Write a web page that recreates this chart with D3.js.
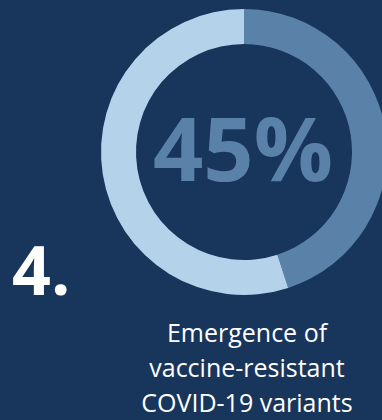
<!DOCTYPE html>
<html>
<head>
<meta charset="utf-8">
<script src="https://cdn.jsdelivr.net/npm/d3@7"></script>
<style>
  html, body { margin: 0; padding: 0; background: #18355b; }
  svg { display: block; }
</style>
</head>
<body>
<svg id="chart" width="382" height="420"></svg>
<script>
// Share of respondents citing this risk
const categories = ["Cited", "Not cited"];
const values = [45, 55];
const bigLabel = "45%";
const rankLabel = "4.";
const captionLines = ["Emergence of", "vaccine-resistant", "COVID-19 variants"];

const colors = d3.scaleOrdinal().domain(categories).range(["#5a82a9", "#b4d2e9"]);

const svg = d3.select("#chart");
const cx = 244, cy = 152, outerR = 143, innerR = 108;

const pie = d3.pie().sort(null).value(d => d.value);
const arc = d3.arc().innerRadius(innerR).outerRadius(outerR);
const data = categories.map((c, i) => ({ key: c, value: values[i] }));

const ring = svg.append("g").attr("transform", `translate(${cx},${cy})`);
ring.selectAll("path")
  .data(pie(data))
  .join("path")
  .attr("d", arc)
  .attr("fill", d => colors(d.data.key));

ring.append("text")
  .attr("x", -1)
  .attr("y", 29)
  .attr("text-anchor", "middle")
  .attr("font-family", "'Open Sans', sans-serif")
  .attr("font-weight", 700)
  .attr("font-size", 88)
  .attr("fill", "#5a82a9")
  .text(bigLabel);

svg.append("text")
  .attr("x", 12)
  .attr("y", 295)
  .attr("font-family", "'Open Sans', sans-serif")
  .attr("font-weight", 700)
  .attr("font-size", 68)
  .attr("fill", "#ffffff")
  .text(rankLabel);

svg.append("g")
  .selectAll("text")
  .data(captionLines)
  .join("text")
  .attr("x", 247)
  .attr("y", (d, i) => 342 + i * 35)
  .attr("text-anchor", "middle")
  .attr("font-family", "'Open Sans', sans-serif")
  .attr("font-size", 25)
  .attr("fill", "#ffffff")
  .text(d => d);
</script>
</body>
</html>
